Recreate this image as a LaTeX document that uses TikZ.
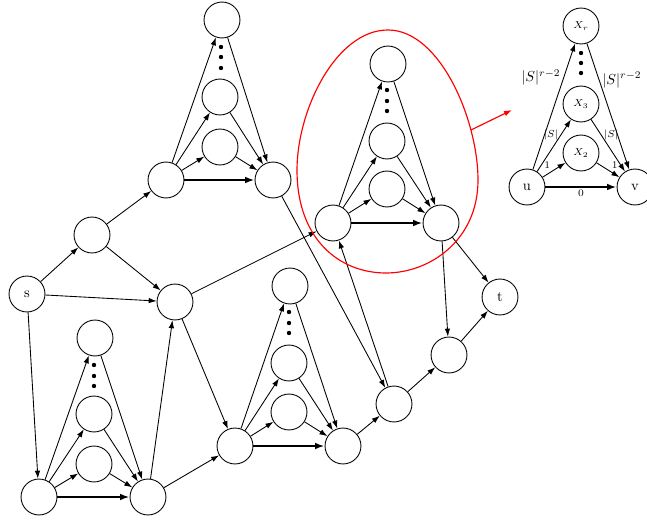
\documentclass[tikz,border=0pt]{standalone}
\usepackage{amsmath,amsfonts}
\usepackage{tikz}
\usetikzlibrary{arrows,arrows.meta}

\begin{document}
\begin{tikzpicture}[x=0.69pt,y=-0.69pt,>={Latex[length=5.5pt,width=3.8pt]},auto,semithick,
  main node/.style={circle,draw,minimum size=24.8pt,inner sep=0pt},
  dot node/.style={circle,fill,inner sep=0pt,minimum size=3pt},
  heavy/.style={line width=1.3pt,>={Latex[length=6.5pt,width=4.6pt]}}]

  \useasboundingbox (0,0) rectangle (647,523);

  \node[main node] (s) at (27,294) {s};
  \node[main node] (a) at (92,235) {};
  \node[main node] (b) at (175,302) {};
  \node[main node] (c) at (394,404) {};
  \node[main node] (d) at (449,355) {};
  \node[main node] (t) at (500,297) {t};

  % gadget bottom left
  \node[main node] (g1u) at (39,497) {};
  \node[main node] (g1v) at (148,497) {};
  \node[main node] (g1x2) at (94,464) {};
  \node[main node] (g1x3) at (94,414) {};
  \node[main node] (g1xr) at (95,338) {};
  \node[dot node] at (94,365) {}; \node[dot node] at (94,376) {}; \node[dot node] at (94,386) {};

  % gadget top
  \node[main node] (g2u) at (166,180) {};
  \node[main node] (g2v) at (273,180) {};
  \node[main node] (g2x2) at (220,147) {};
  \node[main node] (g2x3) at (220,97) {};
  \node[main node] (g2xr) at (222,20) {};
  \node[dot node] at (221,47) {}; \node[dot node] at (221,57) {}; \node[dot node] at (221,68) {};

  % gadget in the red egg
  \node[main node] (g3u) at (333,223) {};
  \node[main node] (g3v) at (441,223) {};
  \node[main node] (g3x2) at (387,189) {};
  \node[main node] (g3x3) at (387,141) {};
  \node[main node] (g3xr) at (388,64) {};
  \node[dot node] at (387,90) {}; \node[dot node] at (387,101) {}; \node[dot node] at (387,111) {};

  % gadget bottom middle
  \node[main node] (g4u) at (235,446) {};
  \node[main node] (g4v) at (343,446) {};
  \node[main node] (g4x2) at (289,412) {};
  \node[main node] (g4x3) at (289,363) {};
  \node[main node] (g4xr) at (290,286) {};
  \node[dot node] at (289,312) {}; \node[dot node] at (289,323) {}; \node[dot node] at (289,333) {};

  % zoomed gadget
  \node[main node] (g5u) at (527,187) {u};
  \node[main node] (g5v) at (635,187) {v};
  \node[main node] (g5x2) at (581,153) {\scriptsize $X_2$};
  \node[main node] (g5x3) at (581,104) {\scriptsize $X_3$};
  \node[main node] (g5xr) at (581,26) {\scriptsize $X_r$};
  \node[dot node] at (581,53) {}; \node[dot node] at (581,63) {}; \node[dot node] at (581,73) {};

  \path[->]
    (s) edge (a)
        edge (b)
        edge (g1u)
    (a) edge (g2u)
        edge (b)
    (g1v) edge (b)
          edge (g4u)
    (b) edge (g3u)
        edge (g4u)
    (g2v) edge (c)
    (g4v) edge (c)
    (c) edge (g3u)
        edge (d)
    (g3v) edge (d)
          edge (t)
    (d) edge (t);

  \path[->]
    (g1u) edge (g1x2) edge (g1x3) edge (g1xr) edge[heavy] (g1v)
    (g1x2) edge (g1v) (g1x3) edge (g1v) (g1xr) edge (g1v)
    (g2u) edge (g2x2) edge (g2x3) edge (g2xr) edge[heavy] (g2v)
    (g2x2) edge (g2v) (g2x3) edge (g2v) (g2xr) edge (g2v)
    (g3u) edge (g3x2) edge (g3x3) edge (g3xr) edge[heavy] (g3v)
    (g3x2) edge (g3v) (g3x3) edge (g3v) (g3xr) edge (g3v)
    (g4u) edge (g4x2) edge (g4x3) edge (g4xr) edge[heavy] (g4v)
    (g4x2) edge (g4v) (g4x3) edge (g4v) (g4xr) edge (g4v);

  \path[->,every node/.style={font=\scriptsize,inner sep=1.5pt}]
    (g5u) edge node[above left,pos=0.45] {1} (g5x2)
          edge node[left,pos=0.7] {$|S|$} (g5x3)
          edge node[left,pos=0.73,font=\normalsize,inner sep=2pt] {$|S|^{r-2}$} (g5xr)
          edge[heavy] node[below,inner sep=1pt] {0} (g5v)
    (g5x2) edge node[above right,pos=0.55] {1} (g5v)
    (g5x3) edge node[right,pos=0.3] {$|S|$} (g5v)
    (g5xr) edge node[right,pos=0.29,font=\normalsize,inner sep=2pt] {$|S|^{r-2}$} (g5v);

  % red egg and pointer
  \draw[red,line width=0.8pt] (388,30) .. controls (440,30) and (478,120) .. (478,180)
    .. controls (478,240) and (430,273) .. (386,273)
    .. controls (340,273) and (297,240) .. (297,170)
    .. controls (297,110) and (336,30) .. (388,30);
  \coordinate (from) at (471,130);
  \coordinate (to) at (512,110);
  \draw[->,red,line width=0.8pt] (from) -- (to);

\end{tikzpicture}
\end{document}
